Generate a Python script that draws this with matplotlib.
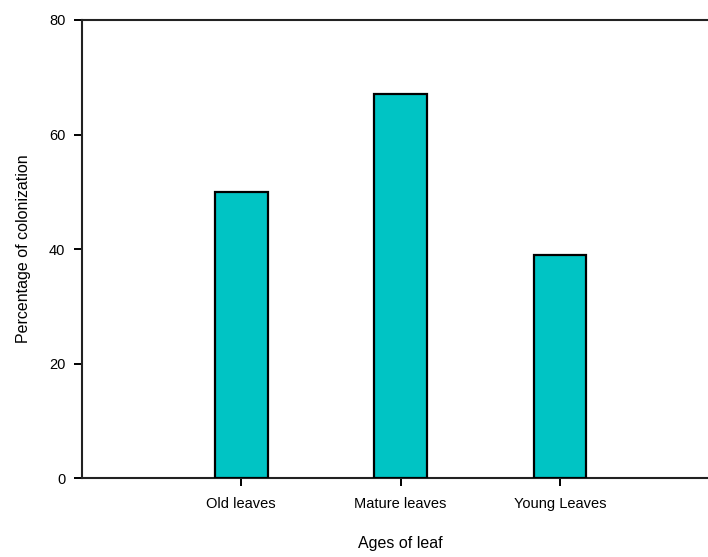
import matplotlib.pyplot as plt
import numpy as np

plt.rcParams['font.family'] = ['Liberation Sans', 'DejaVu Sans']

categories = ['Old leaves', 'Mature leaves', 'Young Leaves']
colonization = [50, 67, 39]
y_ticks = [0, 20, 40, 60, 80]


def main():
    fig = plt.figure(figsize=(7.08, 5.57), dpi=100)
    # axes run a little past the right edge, as in the original
    ax = fig.add_axes([0.1158, 0.1418, 0.9, 0.8223])

    x = np.arange(1, len(categories) + 1)
    ax.bar(x, colonization, width=0.33, color='#00C4C4',
           edgecolor='black', linewidth=1.6, zorder=3)

    ax.set_xlim(0, 4)
    ax.set_ylim(0, 80)
    ax.set_xticks(x)
    ax.set_xticklabels(categories, fontsize=10.5)
    ax.set_yticks(y_ticks)
    ax.set_yticklabels([str(v) for v in y_ticks], fontsize=10.5)
    ax.tick_params(direction='out', length=6, width=1.4, colors='black', pad=6)
    ax.tick_params(axis='x', pad=8)

    for side in ['left', 'bottom', 'top']:
        ax.spines[side].set_linewidth(1.5)
        ax.spines[side].set_color('#222222')
    ax.spines['right'].set_visible(False)

    ax.set_xlabel('Ages of leaf', fontsize=11.5, labelpad=18)
    ax.set_ylabel('Percentage of colonization', fontsize=11.5, labelpad=13)

    fig.savefig('out.png', dpi=100)


if __name__ == "__main__":
    main()
